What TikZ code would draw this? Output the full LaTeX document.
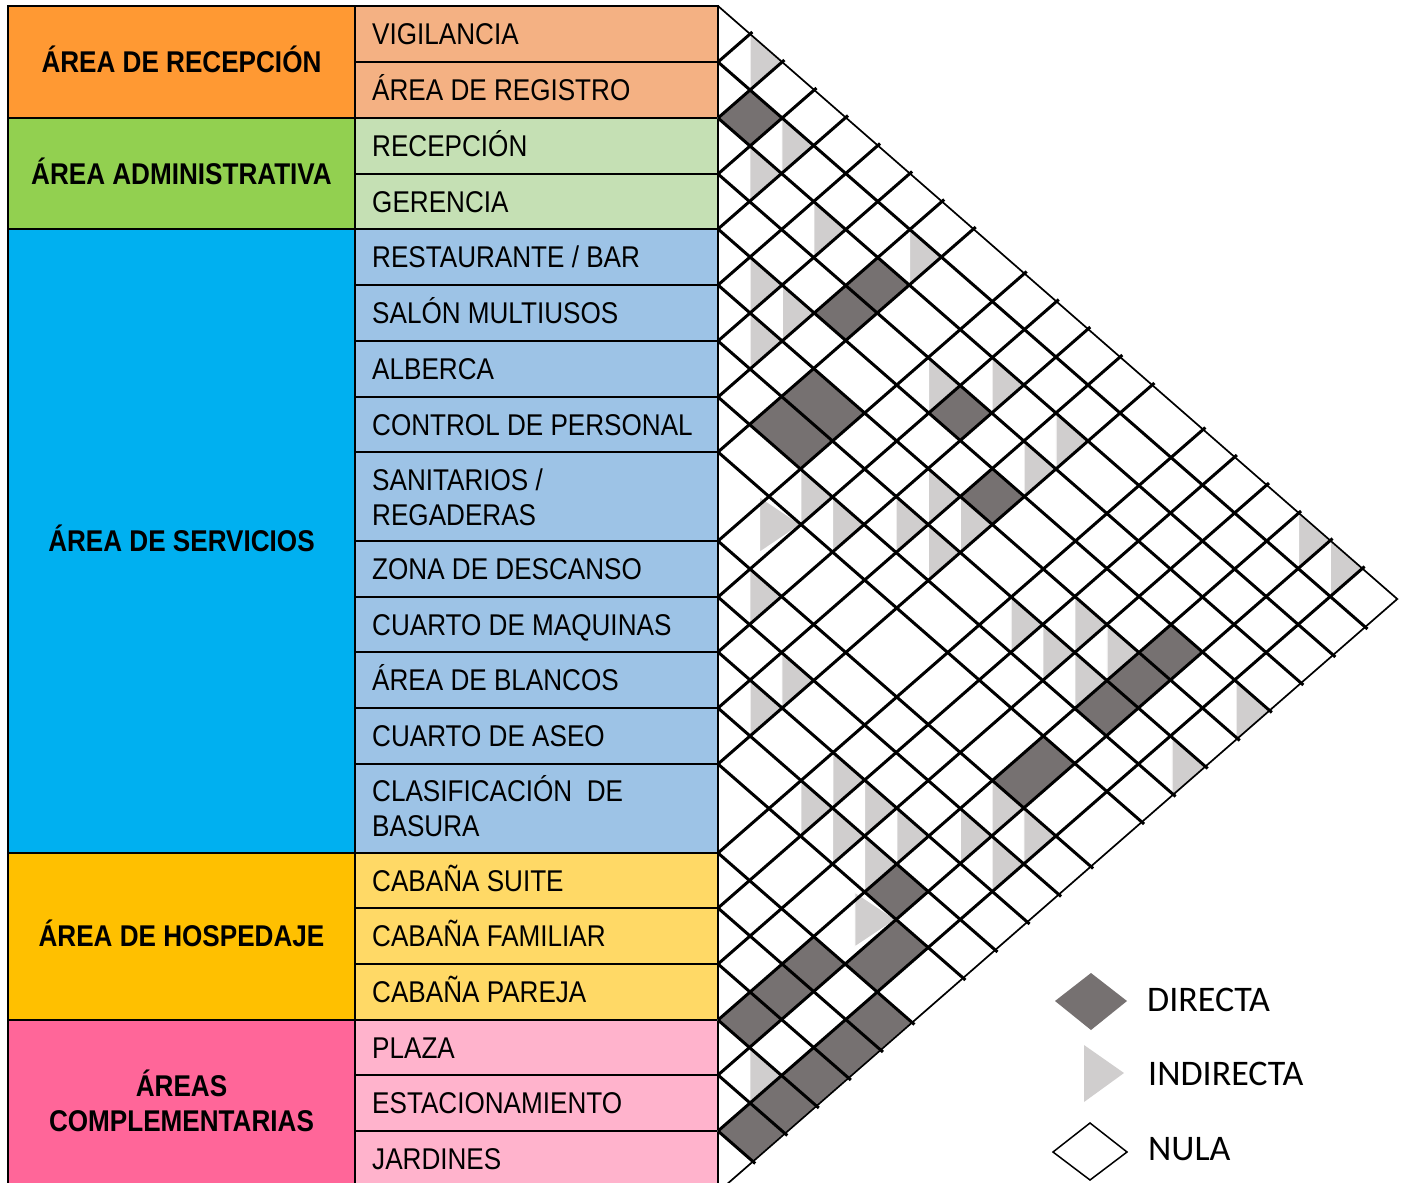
\documentclass[tikz,border=0pt]{standalone}
\usepackage{fontspec}
\usetikzlibrary{calc}
\setmainfont{Liberation Sans}[FakeStretch=0.87]
\newfontfamily\legfont{Carlito}
\definecolor{cOr}{HTML}{FF9933}
\definecolor{cOrL}{HTML}{F4B183}
\definecolor{cGr}{HTML}{92D050}
\definecolor{cGrL}{HTML}{C5E0B4}
\definecolor{cBl}{HTML}{00B0F0}
\definecolor{cBlL}{HTML}{9DC3E6}
\definecolor{cYe}{HTML}{FFC000}
\definecolor{cYeL}{HTML}{FFD966}
\definecolor{cPk}{HTML}{FF6699}
\definecolor{cPkL}{HTML}{FFB3CC}
\definecolor{dgray}{HTML}{767171}
\definecolor{lgray}{HTML}{D0CECE}
\def\Yarr{{6,62,118,174,229,285,341,397,452,541,597,652,708,764,853,908,964,1020,1075,1131,1192}}
\newcommand\setP[3]{%
  \pgfmathsetmacro\tmpa{\Yarr[#2]}%
  \pgfmathsetmacro\tmpb{\Yarr[#3]}%
  \pgfmathsetmacro\tmpx{718+(\tmpb-\tmpa)/1.746}%
  \pgfmathsetmacro\tmpy{0.5*(\tmpa+\tmpb)}%
  \coordinate (#1) at (\tmpx,\tmpy);}
\newcommand\dcell[2]{%
  \pgfmathtruncatemacro\ia{#1-1}%
  \pgfmathtruncatemacro\ja{#2-1}%
  \setP{cL}{#1}{\ja}\setP{cT}{\ia}{\ja}\setP{cR}{\ia}{#2}\setP{cB}{#1}{#2}%
  \path[dirf] (cL) -- (cT) -- (cR) -- (cB) -- cycle;}
\newcommand\icell[2]{%
  \pgfmathtruncatemacro\ia{#1-1}%
  \pgfmathtruncatemacro\ja{#2-1}%
  \setP{cL}{#1}{\ja}\setP{cT}{\ia}{\ja}\setP{cR}{\ia}{#2}%
  \coordinate (cM) at ($(cL)!0.5!(cR)$);%
  \coordinate (cBB) at ($(cT)!2!(cR)$);%
  \path[indf] (cM |- cT) -- (cR) -- (cM |- cBB) -- cycle;}
\tikzset{
  cellbox/.style={draw=black, line width=2pt},
  lab/.style={font=\fontsize{30}{34}\selectfont, anchor=base west, inner sep=0pt},
  glab/.style={font=\bfseries\fontsize{30}{34}\selectfont, anchor=base, inner sep=0pt},
  dirf/.style={fill=dgray, draw=white, line width=1.2pt},
  indf/.style={fill=lgray, draw=white, line width=1.2pt},
  gridin/.style={line width=3pt, black, shorten >=-3pt},
  gridout/.style={line width=1.7pt, black},
  leg/.style={font=\legfont\fontsize{36}{40}\selectfont, anchor=base west, inner sep=0pt},
}
\begin{document}
\begin{tikzpicture}[x=1pt,y=-1pt]
\useasboundingbox (0,0) rectangle (1406,1183);
\clip (0,0) rectangle (1406,1183);
\fill[white] (0,0) rectangle (1406,1183);
% group column
\draw[cellbox, fill=cOr] (8,6) rectangle (355,118);
\draw[cellbox, fill=cGr] (8,118) rectangle (355,229);
\draw[cellbox, fill=cBl] (8,229) rectangle (355,853);
\draw[cellbox, fill=cYe] (8,853) rectangle (355,1020);
\draw[cellbox, fill=cPk] (8,1020) rectangle (355,1192);
% item column
\foreach \a/\b/\c in {6/62/cOrL,62/118/cOrL,118/174/cGrL,174/229/cGrL,
  229/285/cBlL,285/341/cBlL,341/397/cBlL,397/452/cBlL,452/541/cBlL,541/597/cBlL,
  597/652/cBlL,652/708/cBlL,708/764/cBlL,764/853/cBlL,
  853/908/cYeL,908/964/cYeL,964/1020/cYeL,
  1020/1075/cPkL,1075/1131/cPkL,1131/1192/cPkL}
  {\draw[cellbox, fill=\c] (355,\a) rectangle (718,\b);}
% group labels
\node[glab] (g1) at (181.5,72.7) {ÁREA DE RECEPCIÓN};
\node[glab] (g2) at (181.5,184.7) {ÁREA ADMINISTRATIVA};
\node[glab] (g3) at (181.5,551.7) {ÁREA DE SERVICIOS};
\node[glab] (g4) at (181.5,946.7) {ÁREA DE HOSPEDAJE};
\node[glab] (g5a) at (181.5,1096) {ÁREAS};
\node[glab] (g5b) at (181.5,1131) {COMPLEMENTARIAS};
% item labels
\node[lab] (r1) at (372,44.7) {VIGILANCIA};
\node[lab] (r2) at (372,100.7) {ÁREA DE REGISTRO};
\node[lab] (r3) at (372,156.7) {RECEPCIÓN};
\node[lab] (r4) at (372,212.2) {GERENCIA};
\node[lab] (r5) at (372,267.7) {RESTAURANTE / BAR};
\node[lab] (r6) at (372,323.7) {SALÓN MULTIUSOS};
\node[lab] (r7) at (372,379.7) {ALBERCA};
\node[lab] (r8) at (372,435.2) {CONTROL DE PERSONAL};
\node[lab] (r9a) at (372,490.7) {SANITARIOS /};
\node[lab] (r9b) at (372,525.7) {REGADERAS};
\node[lab] (r10) at (372,579.7) {ZONA DE DESCANSO};
\node[lab] (r11) at (372,635.2) {CUARTO DE MAQUINAS};
\node[lab] (r12) at (372,690.7) {ÁREA DE BLANCOS};
\node[lab] (r13) at (372,746.7) {CUARTO DE ASEO};
\node[lab] (r14a) at (372,801.7) {CLASIFICACIÓN~~DE};
\node[lab] (r14b) at (372,836.7) {BASURA};
\node[lab] (r15) at (372,891.2) {CABAÑA SUITE};
\node[lab] (r16) at (372,946.7) {CABAÑA FAMILIAR};
\node[lab] (r17) at (372,1002.7) {CABAÑA PAREJA};
\node[lab] (r18) at (372,1058.2) {PLAZA};
\node[lab] (r19) at (372,1113.7) {ESTACIONAMIENTO};
\node[lab] (r20) at (372,1169.7) {JARDINES};
% relation cells
\foreach \i/\j in {2/3,3/8,4/8,6/9,7/9,4/11,5/13,5/18,6/18,7/18,9/18,13/18,15/18,
  14/19,16/18,17/18,15/20,16/20,17/20,18/20,19/20}
  {\dcell{\i}{\j}}
\foreach \i/\j in {1/2,2/4,3/4,3/6,2/8,5/6,5/7,6/7,4/10,3/11,3/13,4/13,8/10,9/10,
  8/11,7/12,6/12,7/13,6/13,10/11,11/13,12/13,1/18,1/19,7/15,7/16,6/16,7/17,6/17,
  5/20,7/20,10/18,10/19,11/19,12/15,13/15,12/16,13/16,12/17,13/17,11/18,14/18,18/19}
  {\icell{\i}{\j}}
% grid
\foreach \k in {1,...,19} {
  \setP{gS}{\k}{\k}\setP{gU}{0}{\k}\setP{gD}{\k}{20}
  \draw[gridin] (gS) -- (gU);
  \draw[gridin] (gS) -- (gD);
}
\setP{gTop}{0}{0}\setP{gApex}{0}{20}\setP{gBot}{20}{20}
\draw[gridout] (gTop) -- (gApex) -- (gBot);
% legend
\path[fill=dgray] (1055,1001) -- (1091,973) -- (1127,1001) -- (1091,1030) -- cycle;
\path[fill=lgray] (1084,1045) -- (1124,1073) -- (1084,1102) -- cycle;
\draw[line width=1.5pt] (1053,1152) -- (1090,1123) -- (1127,1152) -- (1090,1180) -- cycle;
\node[leg] (l1) at (1147,1011.5) {DIRECTA};
\node[leg] (l2) at (1148,1085) {INDIRECTA};
\node[leg] (l3) at (1148,1160) {NULA};
\end{tikzpicture}
\end{document}
